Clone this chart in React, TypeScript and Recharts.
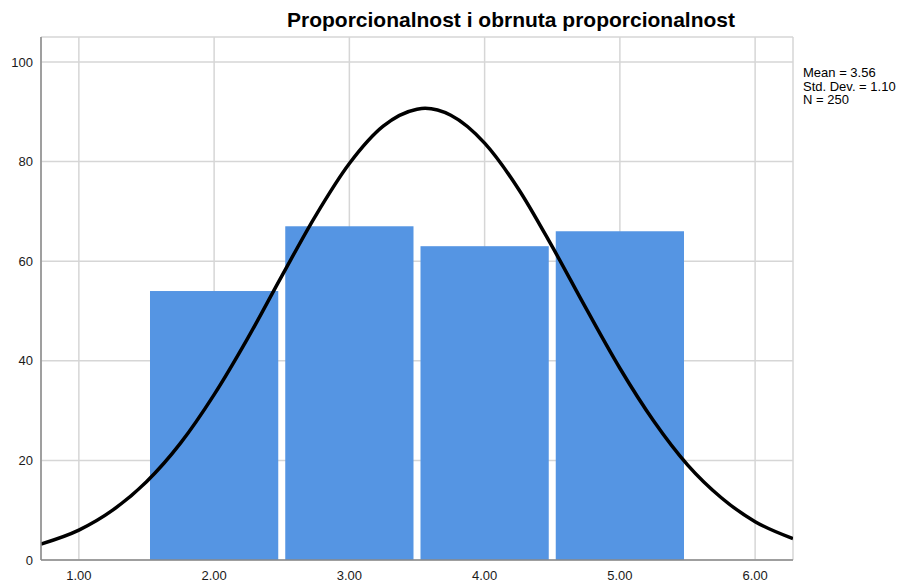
import {
    ComposedChart,
    Line,
    XAxis,
    YAxis,
    CartesianGrid,
    ReferenceArea,
} from 'recharts';

const TITLE = 'Proporcionalnost i obrnuta proporcionalnost';
const STATS = ['Mean = 3.56', 'Std. Dev. = 1.10', 'N = 250'];

// histogram bins (width 1.0)
const binStarts = [1.5, 2.5, 3.5, 4.5];
const binEnds = [2.5, 3.5, 4.5, 5.5];
const binCounts = [54, 67, 63, 66];

// normal curve
const curveX = [0.72, 1.0, 1.25, 1.5, 1.75, 2.0, 2.25, 2.5, 2.75, 3.0, 3.25, 3.5, 3.56, 3.75, 4.0, 4.25, 4.5, 4.75, 5.0, 5.25, 5.5, 5.75, 6.0, 6.28];
const curveY = [3.2, 6.0, 10.0, 15.7, 23.4, 33.2, 44.6, 57.0, 69.1, 79.6, 87.1, 90.5, 90.7, 89.3, 83.7, 74.5, 62.9, 50.5, 38.5, 27.9, 19.1, 12.5, 7.7, 4.3];

const xTicks = [1, 2, 3, 4, 5, 6];
const yTicks = [0, 20, 40, 60, 80, 100];

const curveData = curveX.map((x, i) => ({ x, y: curveY[i] }));

const FONT = '"Liberation Sans", Arial, sans-serif';
const BAR_FILL = '#5595e3';
const TICK_STYLE = { fontSize: 13, fill: '#1a1a1a', fontFamily: FONT };

const BinShape = (props: any) => {
    const { x, y, width, height } = props;
    const inset = 3.5;
    return <rect x={x + inset} y={y} width={Math.max(0, width - inset * 2)} height={height} fill={BAR_FILL} />;
};

export default function App() {
    return (
        <div style={{ position: 'absolute', left: 0, top: 0, width: 910, height: 585, background: '#fff' }}>
            <ComposedChart
                width={910}
                height={585}
                data={curveData}
                margin={{ top: 37, right: 117, left: 0, bottom: 0 }}
            >
                <CartesianGrid stroke="#d6d6d6" strokeWidth={1.5} />
                <XAxis
                    type="number"
                    dataKey="x"
                    domain={[0.72, 6.28]}
                    ticks={xTicks}
                    allowDataOverflow
                    tickFormatter={(v: number) => v.toFixed(2)}
                    tick={TICK_STYLE}
                    tickLine={false}
                    tickMargin={5}
                    height={25}
                    axisLine={{ stroke: '#8a8a8a', strokeWidth: 1.5 }}
                />
                <YAxis
                    type="number"
                    domain={[0, 105]}
                    ticks={yTicks}
                    allowDataOverflow
                    tick={TICK_STYLE}
                    tickLine={false}
                    width={41}
                    axisLine={{ stroke: '#8a8a8a', strokeWidth: 1.5 }}
                />
                {binStarts.map((start, i) => (
                    <ReferenceArea
                        key={`bin-${i}`}
                        x1={start}
                        x2={binEnds[i]}
                        y1={0}
                        y2={binCounts[i]}
                        shape={BinShape}
                        ifOverflow="visible"
                    />
                ))}
                <Line
                    type="monotone"
                    dataKey="y"
                    stroke="#000"
                    strokeWidth={3.5}
                    dot={false}
                    activeDot={false}
                    isAnimationActive={false}
                />
            </ComposedChart>
            <svg
                width={910}
                height={585}
                style={{ position: 'absolute', left: 0, top: 0, pointerEvents: 'none' }}
            >
                <text x={511} y={27} textAnchor="middle" fontFamily={FONT} fontWeight="bold" fontSize={21} fill="#000">
                    {TITLE}
                </text>
                {STATS.map((s, i) => (
                    <text key={s} x={803} y={77 + i * 13.5} fontFamily={FONT} fontSize={13} fill="#000">
                        {s}
                    </text>
                ))}
            </svg>
        </div>
    );
}
